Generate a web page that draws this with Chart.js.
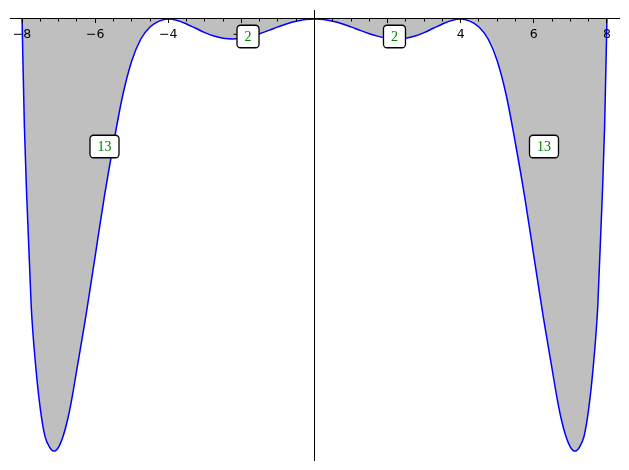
<!DOCTYPE html>
<html>
<head>
<meta charset="utf-8">
<script src="https://cdn.jsdelivr.net/npm/chart.js@4"></script>
<style>
  html, body { margin: 0; padding: 0; background: #fff; }
  #wrap { width: 629px; height: 470px; }
</style>
</head>
<body>
<div id="wrap"><canvas id="curveChart"></canvas></div>
<script>
const xValues = [
    -8, -7.9375, -7.875, -7.75, -7.625, -7.5, -7.375, -7.25, -7.125, -7, -6.875, -6.75, -6.625, -6.5,
    -6.25, -6, -5.75, -5.5, -5.25, -5, -4.75, -4.5, -4.25, -4, -3.75, -3.5, -3.25, -3, -2.75, -2.5,
    -2.25, -2, -1.75, -1.5, -1.25, -1, -0.75, -0.5, -0.25, 0,
    0.25, 0.5, 0.75, 1, 1.25, 1.5, 1.75, 2, 2.25, 2.5, 2.75, 3, 3.25, 3.5, 3.75, 4,
    4.25, 4.5, 4.75, 5, 5.25, 5.5, 5.75, 6, 6.25, 6.5, 6.625, 6.75, 6.875, 7, 7.125, 7.25,
    7.375, 7.5, 7.625, 7.75, 7.875, 7.9375, 8
];
const yValues = [
    0, -199.3, -329, -539.6, -654.2, -733.2, -784, -804.6, -812.2, -804.6, -784, -752, -708.8, -658,
    -556.5, -445.6, -334.6, -235, -144.8, -79, -37.6, -15, -4.1, 0, -2.8, -9.4, -17.5, -25.6, -32.0, -36.1,
    -37.6, -36.3, -32.7, -27.6, -21.4, -14.9, -8.8, -4.1, -1.0, 0,
    -1.0, -4.1, -8.8, -14.9, -21.4, -27.6, -32.7, -36.3, -37.6, -36.1, -32.0, -25.6, -17.5, -9.4, -2.8, 0,
    -4.1, -15, -37.6, -79, -144.8, -235, -334.6, -445.6, -556.5, -658, -708.8, -752, -784, -804.6, -812.2, -804.6,
    -784, -733.2, -654.2, -539.6, -329, -199.3, 0
];

// x axis tick labels
const majorTicks = [-8, -6, -4, -2, 0, 2, 4, 6, 8];
const minorStep = 0.5;

// boxed labels
const boxTexts = ['13', '2', '2', '13'];
const boxX = [-5.745, -1.819, 2.188, 6.278];
const boxY = [-239.7, -32.9, -32.9, -239.7];

const X_MIN = -8.33, X_MAX = 8.33;
const Y_MIN = -829, Y_MAX = 16.9;

function tickText(v) {
    if (v === 0) return '';
    return v < 0 ? '\u2212' + (-v) : String(v);
}

const boxLabels = {
    id: 'boxLabels',
    afterDraw(chart) {
        const ctx = chart.ctx;
        const xs = chart.scales.x;
        const ys = chart.scales.y;
        ctx.save();
        ctx.font = '14px "Liberation Serif"';
        ctx.textAlign = 'center';
        ctx.textBaseline = 'middle';
        boxTexts.forEach((t, i) => {
            const px = xs.getPixelForValue(boxX[i]);
            const py = ys.getPixelForValue(boxY[i]);
            const w = ctx.measureText(t).width + 15;
            const h = 22.5;
            ctx.beginPath();
            ctx.roundRect(px - w / 2, py - h / 2, w, h, 3.5);
            ctx.fillStyle = '#ffffff';
            ctx.fill();
            ctx.lineWidth = 1.3;
            ctx.strokeStyle = '#000000';
            ctx.stroke();
            ctx.fillStyle = '#008000';
            ctx.fillText(t, px, py + 1);
        });
        ctx.restore();
    }
};

document.addEventListener('DOMContentLoaded', function () {
    const ctx = document.getElementById('curveChart').getContext('2d');
    const points = xValues.map((x, i) => ({ x: x, y: yValues[i] }));

    new Chart(ctx, {
        type: 'line',
        data: {
            datasets: [{
                data: points,
                borderColor: '#0000ff',
                borderWidth: 1.5,
                backgroundColor: '#bfbfbf',
                fill: 'origin',
                pointRadius: 0,
                cubicInterpolationMode: 'monotone'
            }]
        },
        options: {
            responsive: true,
            maintainAspectRatio: false,
            animation: false,
            layout: { padding: { left: 10, right: 10, top: 10, bottom: 10 } },
            plugins: {
                legend: { display: false },
                tooltip: { enabled: false }
            },
            scales: {
                x: {
                    type: 'linear',
                    min: X_MIN,
                    max: X_MAX,
                    position: { y: 0 },
                    afterBuildTicks: axis => {
                        axis.ticks = majorTicks.map(v => ({ value: v }));
                    },
                    ticks: {
                        callback: v => tickText(v),
                        color: '#000',
                        font: { family: 'DejaVu Sans', size: 12.5 },
                        padding: 4,
                        maxRotation: 0,
                        autoSkip: false,
                        z: 1
                    },
                    grid: { drawOnChartArea: false, tickLength: 4, tickColor: '#000', tickWidth: 1, z: 1 },
                    border: { display: true, color: '#000', width: 1, z: 1 }
                },
                xMinor: {
                    type: 'linear',
                    axis: 'x',
                    min: X_MIN,
                    max: X_MAX,
                    position: { y: 0 },
                    afterBuildTicks: axis => {
                        const t = [];
                        for (let v = -8; v <= 8; v += minorStep) t.push({ value: v });
                        axis.ticks = t;
                    },
                    ticks: { display: false },
                    grid: { drawOnChartArea: false, tickLength: 2.5, tickColor: '#000', tickWidth: 1, z: 1 },
                    border: { display: false }
                },
                y: {
                    type: 'linear',
                    min: Y_MIN,
                    max: Y_MAX,
                    position: { x: 0 },
                    ticks: { display: false },
                    grid: { display: false },
                    border: { display: true, color: '#000', width: 1, z: 1 }
                }
            }
        },
        plugins: [boxLabels]
    });
});
</script>
</body>
</html>
